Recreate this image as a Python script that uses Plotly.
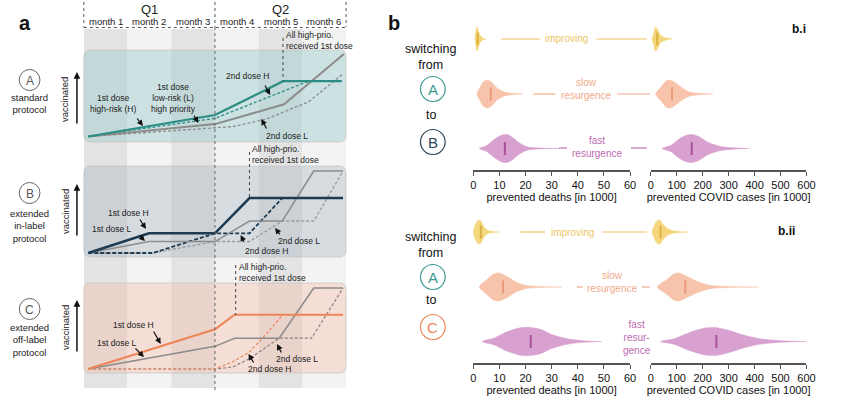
import plotly.graph_objects as go

W, H = 850, 413
FONT = "Liberation Sans, Arial, Helvetica, sans-serif"

# ------------------------------------------------------------------
# DATA  panel a : schematic vaccination curves (x in months, y in % of max)
# ------------------------------------------------------------------
quarters = ["Q1", "Q2"]
month_labels = ["month 1", "month 2", "month 3", "month 4", "month 5", "month 6"]

# A: standard protocol
A_1H_x = [0.1, 3.0, 4.56, 5.9];              A_1H_y = [0, 26, 67, 67]
A_1L_x = [0.1, 3.0, 4.58, 5.95];             A_1L_y = [0, 15, 39, 100]
A_2H_x = [0.1, 3.0, 5.14, 5.9];              A_2H_y = [0, 22, 67, 67]
A_2L_x = [0.1, 3.0, 3.41, 4.17, 5.14, 5.91]; A_2L_y = [0, 11, 12, 21, 42, 75]

# B: extended in-label protocol
B_1H_x = [0.1, 1.49, 3.0, 3.79, 5.93];                   B_1H_y = [0, 24, 24, 67, 67]
B_1L_x = [0.1, 1.49, 3.0, 3.79, 4.54, 5.26, 5.93];       B_1L_y = [0, 14, 14, 39, 39, 100, 100]
B_2H_x = [0.1, 1.58, 3.0, 3.79, 4.54, 5.93];             B_2H_y = [0, 0, 24, 24, 67, 67]
B_2L_x = [0.1, 1.58, 3.0, 3.79, 4.54, 5.26, 5.93];       B_2L_y = [0, 0, 14, 14, 39, 39, 100]

# C: extended off-label protocol
C_1H_x = [0.1, 3.0, 3.45, 5.93];                         C_1H_y = [0, 49, 67, 67]
C_1L_x = [0.1, 3.0, 3.45, 4.47, 5.26, 5.93];             C_1L_y = [0, 28, 38, 38, 100, 100]
C_2H_x = [0.1, 3.0, 3.41, 3.79, 4.17, 4.55, 5.93];       C_2H_y = [0, 0, 9, 21, 43, 67, 67]
C_2L_x = [0.1, 3.0, 3.41, 3.79, 4.47, 5.21, 5.93];       C_2L_y = [0, 0, 2.5, 12.7, 38, 38, 100]

# ------------------------------------------------------------------
# DATA  panel b : violin profiles (value, relative density) + medians
# ------------------------------------------------------------------
scenarios = ["improving", "slow resurgence", "fast resurgence"]
scenario_labels_bi = ["improving", "slow<br>resurgence", "fast<br>resurgence"]
scenario_labels_bii = ["improving", "slow<br>resurgence", "fast<br>resur-<br>gence"]

# b.i  (A -> B)
bi_deaths_imp_x = [0.7, 1.0, 1.4, 1.8, 2.5, 3.2, 4.0, 5.0]
bi_deaths_imp_d = [0, 0.6, 1.0, 0.8, 0.35, 0.15, 0.05, 0]
bi_deaths_slow_x = [1.4, 2.5, 4.0, 5.5, 7.0, 9.0, 12.0, 15.0, 19.0]
bi_deaths_slow_d = [0, 0.45, 0.9, 1.0, 0.85, 0.45, 0.15, 0.05, 0]
bi_deaths_fast_x = [2.3, 5, 8, 11, 13, 15, 18, 21, 26, 33]
bi_deaths_fast_d = [0, 0.2, 0.65, 0.97, 1.0, 0.8, 0.35, 0.1, 0.03, 0]
bi_cases_imp_x = [5, 12, 18, 25, 35, 45, 60, 82]
bi_cases_imp_d = [0, 0.5, 1.0, 0.85, 0.4, 0.2, 0.08, 0]
bi_cases_slow_x = [19, 40, 60, 75, 95, 120, 150, 190, 240]
bi_cases_slow_d = [0, 0.5, 0.95, 1.0, 0.8, 0.45, 0.15, 0.05, 0]
bi_cases_fast_x = [44, 80, 110, 140, 160, 185, 220, 270, 320, 379]
bi_cases_fast_d = [0, 0.25, 0.7, 0.97, 1.0, 0.85, 0.45, 0.15, 0.05, 0]
bi_deaths_median = [1.7, 6.7, 12.1]
bi_cases_median = [25, 82, 158]

# b.ii (A -> C)
bii_deaths_imp_x = [0.0, 0.8, 2.0, 3.0, 4.0, 5.5, 7.5, 9.9]
bii_deaths_imp_d = [0, 0.6, 1.0, 0.9, 0.45, 0.15, 0.05, 0]
bii_deaths_slow_x = [2.3, 5, 8, 10, 13, 16, 20, 25, 34]
bii_deaths_slow_d = [0, 0.5, 0.95, 1.0, 0.75, 0.4, 0.12, 0.04, 0]
bii_deaths_fast_x = [3.5, 8, 13, 18, 22, 26, 30, 36, 42, 49]
bii_deaths_fast_d = [0, 0.25, 0.7, 0.98, 1.0, 0.85, 0.5, 0.2, 0.06, 0]
bii_cases_imp_x = [6, 15, 25, 35, 45, 60, 80, 110, 145]
bii_cases_imp_d = [0, 0.6, 0.95, 1.0, 0.7, 0.35, 0.15, 0.05, 0]
bii_cases_slow_x = [25, 60, 90, 110, 140, 180, 230, 300, 416]
bii_cases_slow_d = [0, 0.5, 0.95, 1.0, 0.75, 0.4, 0.12, 0.04, 0]
bii_cases_fast_x = [38, 90, 150, 210, 250, 300, 350, 420, 500, 600]
bii_cases_fast_d = [0, 0.2, 0.65, 0.97, 1.0, 0.8, 0.5, 0.2, 0.06, 0]
bii_deaths_median = [2.9, 11.4, 22]
bii_cases_median = [38, 133, 253]

deaths_ticks = [0, 10, 20, 30, 40, 50, 60]
cases_ticks = [0, 100, 200, 300, 400, 500, 600]

# ------------------------------------------------------------------
# STYLE
# ------------------------------------------------------------------
TEAL = "#2b8d83"
NAVY = "#1d3b52"
ORANGE = "#ec8659"
GRAY = "#8c8c8c"
DASH = "3px,2px"
scen_fill = ["#f4d67c", "#f7c4ab", "#d8a1cf"]
scen_med = ["#dcb140", "#e79a78", "#a9529b"]
scen_text = ["#ecc562", "#f1a98a", "#c06ab2"]


def PX(x):
    return x / W


def PY(y):
    return 1 - y / H


fig = go.Figure()
shapes = []
annotations = []


def note(text, x, y, size=9, color="#222", xanchor="center", yanchor="middle",
         bold=False, angle=0, align="center"):
    if bold:
        text = "<b>" + text + "</b>"
    annotations.append(dict(text=text, x=PX(x), y=PY(y), xref="paper", yref="paper",
                            showarrow=False, xanchor=xanchor, yanchor=yanchor,
                            textangle=angle, align=align,
                            font=dict(family=FONT, size=size, color=color)))


def arrow(tail, head, width=1.2, head_style=2, size=1.0, color="#111"):
    annotations.append(dict(text="", x=PX(head[0]), y=PY(head[1]), xref="paper", yref="paper",
                            ax=tail[0] - head[0], ay=tail[1] - head[1],
                            axref="pixel", ayref="pixel", showarrow=True,
                            arrowhead=head_style, arrowsize=size, arrowwidth=width,
                            arrowcolor=color, standoff=0, startstandoff=0))


def seg(x0, y0, x1, y1, color, width=1.0, dash="solid", layer="above"):
    shapes.append(dict(type="line", xref="paper", yref="paper",
                       x0=PX(x0), y0=PY(y0), x1=PX(x1), y1=PY(y1), layer=layer,
                       line=dict(color=color, width=width, dash=dash)))


def circle(cx, cy, r, color, width=1.0):
    shapes.append(dict(type="circle", xref="paper", yref="paper",
                       x0=PX(cx - r), x1=PX(cx + r), y0=PY(cy + r), y1=PY(cy - r),
                       line=dict(color=color, width=width), layer="above"))


def rrect(x0, y0, x1, y1, r, fill, line):
    def p(x, y):
        return f"{PX(x):.5f},{PY(y):.5f}"
    path = (f"M {p(x0 + r, y0)} L {p(x1 - r, y0)} Q {p(x1, y0)} {p(x1, y0 + r)} "
            f"L {p(x1, y1 - r)} Q {p(x1, y1)} {p(x1 - r, y1)} L {p(x0 + r, y1)} "
            f"Q {p(x0, y1)} {p(x0, y1 - r)} L {p(x0, y0 + r)} Q {p(x0, y0)} {p(x0 + r, y0)} Z")
    shapes.append(dict(type="path", path=path, xref="paper", yref="paper",
                       fillcolor=fill, line=dict(color=line, width=1), layer="below"))


# ------------------------------------------------------------------
# PANEL a layout geometry (pixels)
# ------------------------------------------------------------------
AX_L, AX_R = 82, 348
panels = [
    # (xaxis, yaxis, box top, box bottom, baseline px, px per unit)
    ("x", "y", 50, 142, 136.5, 0.825),
    ("x2", "y2", 166, 257, 253.0, 0.82),
    ("x3", "y3", 283, 373, 369.0, 0.81),
]

# month stripes
stripe_cols = ["#e3e3e3", "#f3f3f3"]
for i in range(6):
    shapes.append(dict(type="rect", xref="x", yref="paper", x0=i, x1=i + 1,
                       y0=PY(388), y1=PY(29), fillcolor=stripe_cols[i % 2],
                       line=dict(width=0), layer="below"))

box_fill = ["rgba(150,200,200,0.42)", "rgba(140,162,175,0.28)", "rgba(245,180,155,0.33)"]
for (xa, ya, top, bot, base, sc), fc in zip(panels, box_fill):
    rrect(AX_L, top, AX_R, bot, 7, fc, "rgba(195,195,195,0.7)")

# header: quarters and months
mw = (AX_R - AX_L) / 6
for i, q in enumerate(quarters):
    note(q, AX_L + mw * (3 * i + 1.5), 9.5, size=13, color="#222")
for i, m in enumerate(month_labels):
    note(m, AX_L + mw * (i + 0.5), 21.5, size=9.5, color="#222")
for xv in [AX_L, AX_L + 3 * mw, AX_R]:
    seg(xv, 2, xv, 27, "#555", 1, "dot")
seg(AX_L, 27.5, AX_R, 27.5, "#555", 1, "dot")
seg(AX_L + 3 * mw, 27, AX_L + 3 * mw, 390, "#666", 1, "dot")


def add_line(xs, ys, xa, ya, color, width, dash="solid"):
    fig.add_trace(go.Scatter(x=xs, y=ys, xaxis=xa, yaxis=ya, mode="lines",
                             line=dict(color=color, width=width, dash=dash),
                             hoverinfo="skip", showlegend=False))


# A
add_line(A_2L_x, A_2L_y, "x", "y", GRAY, 1.3, DASH)
add_line(A_2H_x, A_2H_y, "x", "y", TEAL, 1.3, DASH)
add_line(A_1L_x, A_1L_y, "x", "y", GRAY, 2.0)
add_line(A_1H_x, A_1H_y, "x", "y", TEAL, 2.2)
# B
add_line(B_2L_x, B_2L_y, "x2", "y2", "#9a9a9a", 1.3, DASH)
add_line(B_2H_x, B_2H_y, "x2", "y2", NAVY, 1.8, "4px,2px")
add_line(B_1L_x, B_1L_y, "x2", "y2", GRAY, 1.5)
add_line(B_1H_x, B_1H_y, "x2", "y2", NAVY, 2.6)
# C
add_line(C_2L_x, C_2L_y, "x3", "y3", "#8a7f7c", 1.2, DASH)
add_line(C_2H_x, C_2H_y, "x3", "y3", ORANGE, 1.2, DASH)
add_line(C_1L_x, C_1L_y, "x3", "y3", GRAY, 1.5)
add_line(C_1H_x, C_1H_y, "x3", "y3", ORANGE, 2.2)

# "All high-prio" markers
for (lx, ytop, ybot, ty) in [(284, 38, 81, 40), (250, 152, 198, 155), (236, 265, 315, 272)]:
    seg(lx, ytop, lx, ybot, "#444", 1, "dot")
    note("All high-prio.<br>received 1st dose", lx + 1, ty, size=8.5, color="#222",
         xanchor="left", align="left")

# line labels A
note("1st dose<br>high-risk (H)", 112, 104, size=8.5)
arrow((135, 117), (142, 126))
note("1st dose<br>low-risk (L)<br>high priority", 173, 98, size=8.5)
arrow((193, 114), (198, 123))
note("2nd dose H", 248, 76, size=8.5)
arrow((265, 84), (271, 95))
note("2nd dose L", 288, 136, size=8.5)
arrow((268, 130), (262, 119))
# B
note("1st dose H", 127, 213, size=8.5)
arrow((138, 218), (145, 229))
note("1st dose L", 110, 229, size=8.5)
arrow((137, 234), (144, 241))
note("2nd dose H", 267, 251, size=8.5)
arrow((245, 243), (241, 235))
note("2nd dose L", 300, 241, size=8.5)
arrow((282, 236), (276, 228))
# C
note("1st dose H", 132, 325, size=8.5)
arrow((152, 330), (160, 344))
note("1st dose L", 115, 343, size=8.5)
arrow((133, 347), (143, 357))
note("2nd dose L", 298, 359, size=8.5)
arrow((283, 354), (278, 344))
note("2nd dose H", 270, 369, size=8.5)
arrow((255, 364), (249, 354))

# left labels panel a
for letter, cy, txt, ty, vy in [("A", 80, "standard<br>protocol", 104, 100),
                                ("B", 193, "extended<br>in-label<br>protocol", 226, 212),
                                ("C", 309, "extended<br>off-label<br>protocol", 340, 328)]:
    circle(27, cy, 10.5, "#666", 1)
    note(letter, 27, cy + 0.5, size=12, color="#555")
    note(txt, 27, ty, size=9.5, color="#222")
    note("vaccinated", 63, vy, size=9.5, color="#222", angle=-90)
    arrow((75, vy + 25), (75, vy - 28), width=1.5, size=0.9)

note("a", 22, 23, size=20, bold=True, color="#111")

# ------------------------------------------------------------------
# PANEL b
# ------------------------------------------------------------------
note("b", 397, 23, size=20, bold=True, color="#111")
note("b.i", 807, 29, size=12, bold=True, color="#111")
note("b.ii", 795, 231, size=12, bold=True, color="#111")

for (y_sw, y_a, y_to, y_b, letter, col) in [(57, 89, 115, 142, "B", "#2c4659"),
                                            (245, 277, 300, 327, "C", ORANGE)]:
    note("switching<br>from", 434, y_sw, size=12.5, color="#111")
    circle(436, y_a, 12.5, "#3b9a8f", 1.2)
    note("A", 436, y_a + 0.5, size=15, color="#3b9a8f")
    note("to", 434, y_to, size=12.5, color="#111")
    circle(436, y_b, 12.5, col, 1.2)
    note(letter, 436, y_b + 0.5, size=15, color=col)

ROWS = [131, 76, 21.5]           # row centres in y units (1 unit = 1 px)
HALF = [12, 14, 14]              # violin half heights


def violin(xs, ds, xa, ya, row, k):
    c = ROWS[row]
    h = HALF[row]
    up = [c + d * h for d in ds]
    lo = [c - d * h for d in ds]
    fig.add_trace(go.Scatter(x=xs + xs[::-1], y=up + lo[::-1], xaxis=xa, yaxis=ya,
                             mode="lines", fill="toself", fillcolor=scen_fill[k],
                             line=dict(color=scen_fill[k], width=0.5, shape="spline", smoothing=0.8),
                             hoverinfo="skip", showlegend=False))


def median(m, xa, ya, row, k):
    c = ROWS[row]
    fig.add_trace(go.Scatter(x=[m, m], y=[c - 6.5, c + 6.5], xaxis=xa, yaxis=ya, mode="lines",
                             line=dict(color=scen_med[k], width=2),
                             hoverinfo="skip", showlegend=False))


bi_d = [(bi_deaths_imp_x, bi_deaths_imp_d), (bi_deaths_slow_x, bi_deaths_slow_d),
        (bi_deaths_fast_x, bi_deaths_fast_d)]
bi_c = [(bi_cases_imp_x, bi_cases_imp_d), (bi_cases_slow_x, bi_cases_slow_d),
        (bi_cases_fast_x, bi_cases_fast_d)]
bii_d = [(bii_deaths_imp_x, bii_deaths_imp_d), (bii_deaths_slow_x, bii_deaths_slow_d),
         (bii_deaths_fast_x, bii_deaths_fast_d)]
bii_c = [(bii_cases_imp_x, bii_cases_imp_d), (bii_cases_slow_x, bii_cases_slow_d),
         (bii_cases_fast_x, bii_cases_fast_d)]

for k in range(3):
    violin(*bi_d[k], "x4", "y4", k, k)
    median(bi_deaths_median[k], "x4", "y4", k, k)
    violin(*bi_c[k], "x5", "y5", k, k)
    median(bi_cases_median[k], "x5", "y5", k, k)
    violin(*bii_d[k], "x6", "y6", k, k)
    median(bii_deaths_median[k], "x6", "y6", k, k)
    violin(*bii_c[k], "x7", "y7", k, k)
    median(bii_cases_median[k], "x7", "y7", k, k)

# scenario labels and connector lines (pixel layout)
bi_label_pos = [(572, 39), (591, 89), (603, 147)]
bi_connect = [[(505, 545, 39), (602, 653, 39)],
              [(538, 560, 94), (623, 656, 94)],
              [(564, 572, 148), (637, 653, 148)]]
bii_label_pos = [(578, 232), (618, 282), (643, 337)]
bii_connect = [[(525, 550, 232), (608, 653, 232)],
               [(582, 588, 287), (648, 656, 287)],
               []]
for k in range(3):
    note(scenario_labels_bi[k], *bi_label_pos[k], size=10, color=scen_text[k])
    for (a, b, yy) in bi_connect[k]:
        seg(a, yy, b, yy, scen_text[k], 1.2)
    note(scenario_labels_bii[k], *bii_label_pos[k], size=10, color=scen_text[k])
    for (a, b, yy) in bii_connect[k]:
        seg(a, yy, b, yy, scen_text[k], 1.2)

# ------------------------------------------------------------------
# AXES
# ------------------------------------------------------------------
layout_axes = {}
for (xa, ya, top, bot, base, sc) in panels:
    xn = "xaxis" + xa[1:]
    yn = "yaxis" + ya[1:]
    layout_axes[xn] = dict(domain=[PX(AX_L), PX(AX_R)], range=[0, 6], visible=False,
                           anchor=ya, fixedrange=True)
    layout_axes[yn] = dict(domain=[PY(bot), PY(top)],
                           range=[(base - bot) / sc, (base - top) / sc],
                           visible=False, anchor=xa, fixedrange=True)

bax = [("x4", "y4", 477, 636, 170, [0, 60], deaths_ticks, "prevented deaths [in 1000]"),
       ("x5", "y5", 657, 815, 170, [0, 600], cases_ticks, "prevented COVID cases [in 1000]"),
       ("x6", "y6", 477, 636, 363, [0, 60], deaths_ticks, "prevented deaths [in 1000]"),
       ("x7", "y7", 657, 815, 363, [0, 600], cases_ticks, "prevented COVID cases [in 1000]")]
for (xa, ya, x0, x1, ybase, rng, ticks, title) in bax:
    layout_axes["xaxis" + xa[1:]] = dict(
        domain=[PX(x0), PX(x1)], range=rng, anchor=ya, showline=True, linecolor="#555",
        linewidth=1.5, ticks="outside", ticklen=4, tickwidth=1.3, tickcolor="#555",
        tickvals=ticks, ticktext=[str(t) for t in ticks], showgrid=False, zeroline=False,
        tickfont=dict(family=FONT, size=11, color="#111"),
        title=dict(text=title, font=dict(family=FONT, size=11, color="#111"), standoff=2),
        fixedrange=True)
    layout_axes["yaxis" + ya[1:]] = dict(domain=[PY(ybase), PY(ybase - 150)], range=[0, 150],
                                         visible=False, anchor=xa, fixedrange=True)

fig.update_layout(
    width=W, height=H, margin=dict(l=0, r=0, t=0, b=0),
    paper_bgcolor="white", plot_bgcolor="rgba(0,0,0,0)",
    showlegend=False, shapes=shapes, annotations=annotations,
    font=dict(family=FONT), hovermode=False,
    **layout_axes,
)

fig.write_html("out.html", config={"displayModeBar": False},
               post_script="document.body.style.margin='0';document.body.style.overflow='hidden';")
